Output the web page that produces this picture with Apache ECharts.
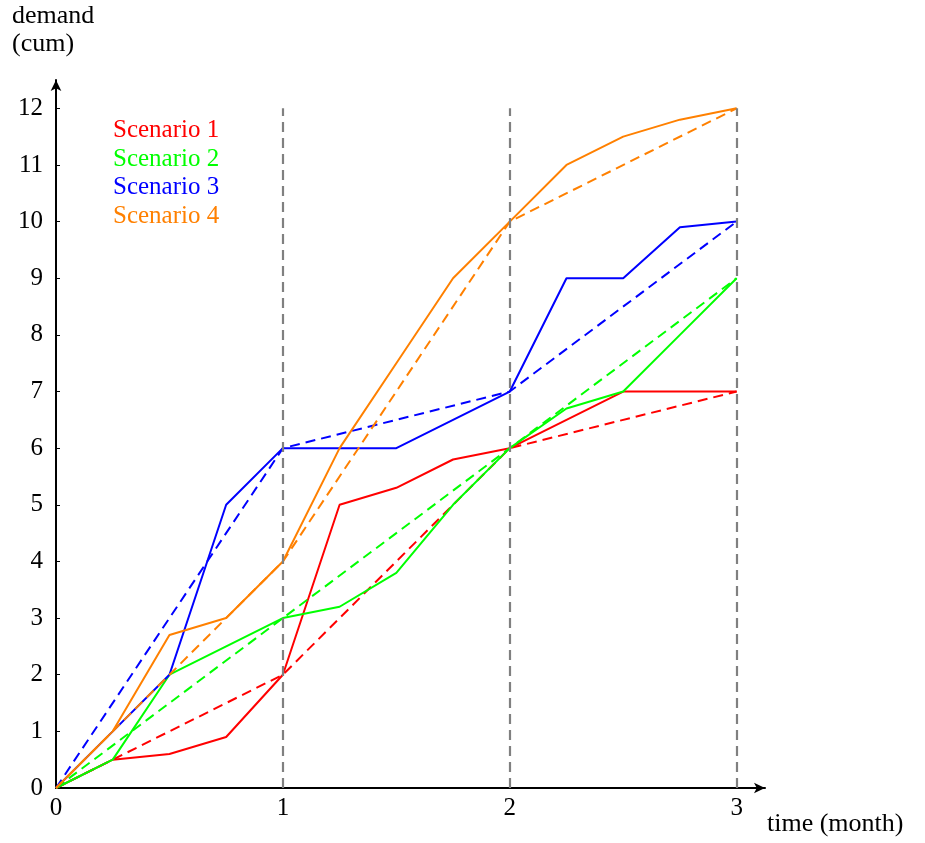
<!DOCTYPE html>
<html>
<head>
<meta charset="utf-8">
<script src="https://cdn.jsdelivr.net/npm/echarts@6/dist/echarts.min.js"></script>
<style>html,body{margin:0;padding:0;background:#fff;}#c{width:925px;height:843px;}</style>
</head>
<body>
<div id="c"></div>
<script>
// ---- data ----
const months = [0, 0.25, 0.5, 0.75, 1, 1.25, 1.5, 1.75, 2, 2.25, 2.5, 2.75, 3];
const scenario1 = [0, 0.5, 0.6, 0.9, 2, 5, 5.3, 5.8, 6, 6.5, 7, 7, 7];
const scenario2 = [0, 0.5, 2, 2.5, 3, 3.2, 3.8, 5, 6, 6.7, 7, 8, 9];
const scenario3 = [0, 1, 2, 5, 6, 6, 6, 6.5, 7, 9, 9, 9.9, 10];
const scenario4 = [0, 1, 2.7, 3, 4, 6, 7.5, 9, 10, 11, 11.5, 11.8, 12];
const planMonths = [0, 1, 2, 3];
const plan1 = [0, 2, 6, 7];
const plan2 = [0, 3, 6, 9];
const plan3 = [0, 6, 7, 10];
const plan4 = [0, 4, 10, 12];
const periodMarks = [1, 2, 3];
const names = ['Scenario 1', 'Scenario 2', 'Scenario 3', 'Scenario 4'];
const colors = ['#ff0000', '#00ff00', '#0000ff', '#ff8000'];

const FONT = 'Liberation Serif';
const pair = (xs, ys) => xs.map((x, i) => [x, ys[i]]);
const actual = [scenario1, scenario2, scenario3, scenario4];
const plans = [plan1, plan2, plan3, plan4];

const series = [{
  type: 'line', name: 'periods', data: [], silent: true, z: 1,
  markLine: {
    silent: true, symbol: 'none', label: {show: false},
    lineStyle: {color: '#808080', type: [10, 6], width: 2.2},
    data: periodMarks.map(m => [{coord: [m, 0]}, {coord: [m, 12]}])
  }
}];
actual.forEach((arr, i) => {
  series.push({
    type: 'line', name: names[i], data: pair(months, arr), showSymbol: false, symbol: 'none',
    lineStyle: {color: colors[i], width: 2}, itemStyle: {color: colors[i]}, z: 3
  });
  series.push({
    type: 'line', name: names[i] + ' plan', data: pair(planMonths, plans[i]), showSymbol: false, symbol: 'none',
    lineStyle: {color: colors[i], width: 2, type: [10, 6]}, itemStyle: {color: colors[i]}, z: 3
  });
});

const chart = echarts.init(document.getElementById('c'), null, {renderer: 'canvas'});
chart.setOption({
  animation: false,
  backgroundColor: '#fff',
  grid: {left: 56, right: 160, top: 80, bottom: 55, containLabel: false},
  legend: {
    left: 103, top: 113, orient: 'vertical', itemWidth: 0, itemHeight: 0, itemGap: 3.5,
    icon: 'rect', selectedMode: false,
    textStyle: {fontFamily: FONT, fontSize: 25, lineHeight: 24},
    data: names.map((n, i) => ({name: n, textStyle: {color: colors[i]}}))
  },
  xAxis: {
    type: 'value', min: 0, max: 3.125, interval: 1,
    splitLine: {show: false},
    axisLine: {lineStyle: {color: '#000', width: 2}, symbol: ['none', 'arrow'], symbolSize: [8, 11], symbolOffset: [0, 0]},
    axisTick: {show: true, inside: true, length: 4, lineStyle: {color: '#000', width: 1}},
    axisLabel: {showMaxLabel: false, color: '#000', fontFamily: FONT, fontSize: 25, margin: 8}
  },
  yAxis: {
    type: 'value', min: 0, max: 12.5, interval: 1,
    splitLine: {show: false},
    axisLine: {show: true, lineStyle: {color: '#000', width: 2}, symbol: ['none', 'arrow'], symbolSize: [8, 11], symbolOffset: [0, 0]},
    axisTick: {show: true, inside: true, length: 4, lineStyle: {color: '#000', width: 1}},
    axisLabel: {showMaxLabel: false, color: '#000', fontFamily: FONT, fontSize: 25, margin: 13}
  },
  graphic: [
    {type: 'text', left: 12, top: 2, style: {text: 'demand\n(cum)', font: '26px "Liberation Serif"', fill: '#000', lineHeight: 28}},
    {type: 'text', left: 767, top: 811, style: {text: 'time (month)', font: '26px "Liberation Serif"', fill: '#000'}}
  ],
  series: series
});
</script>
</body>
</html>
